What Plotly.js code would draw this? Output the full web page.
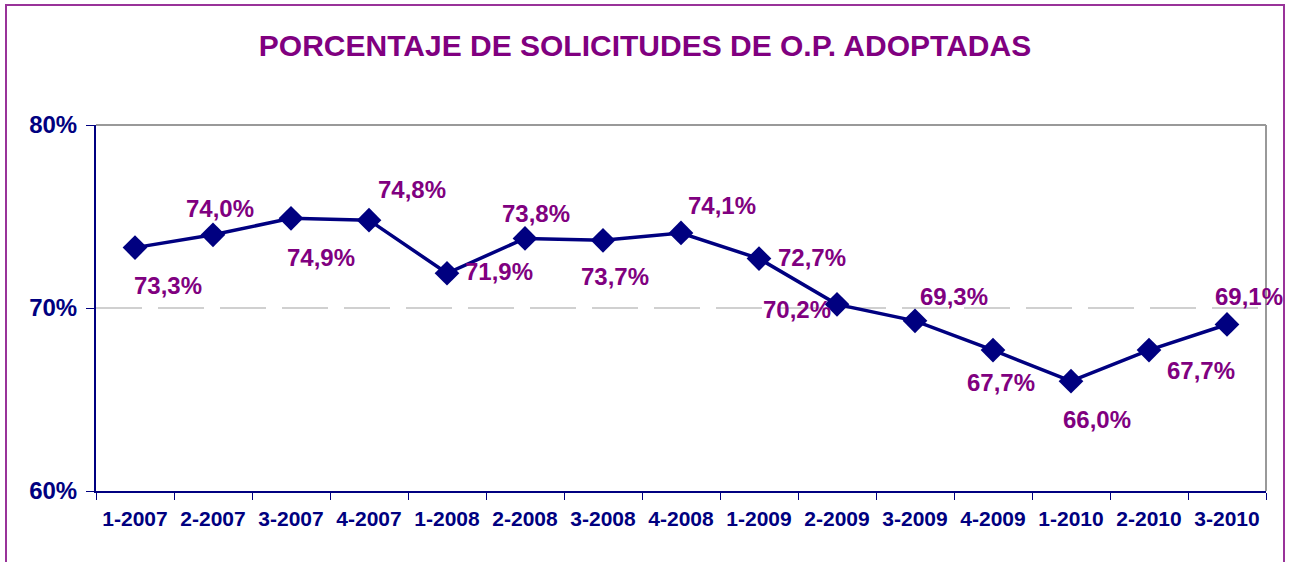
<!DOCTYPE html>
<html>
<head>
<meta charset="utf-8">
<script src="https://cdn.plot.ly/plotly-3.0.1.min.js"></script>
<style>
html,body{margin:0;padding:0;background:#fff;}
#chart{width:1293px;height:562px;}
</style>
</head>
<body>
<div id="chart"></div>
<script>
// ---- data ----
const periods = ["1-2007","2-2007","3-2007","4-2007","1-2008","2-2008","3-2008","4-2008","1-2009","2-2009","3-2009","4-2009","1-2010","2-2010","3-2010"];
const adoptedPct = [73.3, 74.0, 74.9, 74.8, 71.9, 73.8, 73.7, 74.1, 72.7, 70.2, 69.3, 67.7, 66.0, 67.7, 69.1];
const yTickVals = [60, 70, 80];
const yTickText = ["60%", "70%", "80%"];

// ---- label placement (pixel offsets from each marker) ----
const labelOffsets = [[33,38],[7,-26],[30,39],[43,-31],[52,-2],[11,-25],[12,36],[41,-27],[53,-1],[-40,5],[39,-24],[8,32],[26,38],[52,20],[22,-28]];

const fmt = v => v.toFixed(1).replace('.', ',') + '%';

const annotations = periods.map((p, i) => ({
  x: p, y: adoptedPct[i], xref: 'x', yref: 'y',
  text: fmt(adoptedPct[i]), showarrow: false,
  xshift: labelOffsets[i][0], yshift: -labelOffsets[i][1],
  font: {family: 'Liberation Sans, Arial, sans-serif', size: 24, color: '#800080', weight: 'bold'}
}));

const trace = {
  x: periods, y: adoptedPct, type: 'scatter', mode: 'lines+markers',
  line: {color: '#000080', width: 3.5},
  marker: {symbol: 'diamond', size: 19, color: '#000080'},
  hoverinfo: 'skip'
};

const L = 96, R = 1266, T = 125, B = 491;
const W = R - L, H = B - T;
const px = v => (v - L) / W;
const py = v => (B - v) / H;

const layout = {
  width: 1293, height: 562,
  margin: {l: L, r: 1293 - R, t: T, b: 562 - B, pad: 0},
  paper_bgcolor: '#ffffff', plot_bgcolor: '#ffffff',
  showlegend: false,
  title: {
    text: 'PORCENTAJE DE SOLICITUDES DE O.P. ADOPTADAS',
    font: {family: 'Liberation Sans, Arial, sans-serif', size: 30, color: '#800080', weight: 'bold'},
    x: 645 / 1293, xanchor: 'center', xref: 'container',
    y: 1 - 45 / 562, yanchor: 'middle', yref: 'container'
  },
  xaxis: {
    type: 'category', range: [-0.5, periods.length - 0.5],
    tickson: 'boundaries', ticks: 'outside', ticklen: 7, tickcolor: '#000080', tickwidth: 1,
    showline: true, linecolor: '#000080', linewidth: 2,
    showgrid: false, zeroline: false,
    tickfont: {family: 'Liberation Sans, Arial, sans-serif', size: 21, color: '#000080', weight: 'bold'},
    ticklabelstandoff: 8,
    fixedrange: true
  },
  yaxis: {
    range: [60, 80], tickvals: yTickVals, ticktext: yTickText,
    ticks: 'outside', ticklen: 8, tickcolor: '#000080', tickwidth: 1,
    showline: true, linecolor: '#000080', linewidth: 2,
    showgrid: true, gridcolor: '#d0d0d0', griddash: '46px,16px', gridwidth: 1.5,
    zeroline: false,
    tickfont: {family: 'Liberation Sans, Arial, sans-serif', size: 24, color: '#000080', weight: 'bold'},
    ticklabelstandoff: 4,
    fixedrange: true
  },
  shapes: [
    {type: 'line', xref: 'paper', yref: 'paper', x0: 0, x1: 1, y0: 1, y1: 1, line: {color: '#999999', width: 2}, layer: 'below'},
    {type: 'line', xref: 'paper', yref: 'paper', x0: 1, x1: 1, y0: 0, y1: 1, line: {color: '#999999', width: 2}, layer: 'below'},
    {type: 'rect', xref: 'paper', yref: 'paper', x0: px(6), x1: px(1284), y0: py(5), y1: py(600), line: {color: '#993399', width: 2}, fillcolor: 'rgba(0,0,0,0)', layer: 'below'}
  ],
  annotations: annotations
};

Plotly.newPlot('chart', [trace], layout, {displayModeBar: false, staticPlot: true});
</script>
</body>
</html>
